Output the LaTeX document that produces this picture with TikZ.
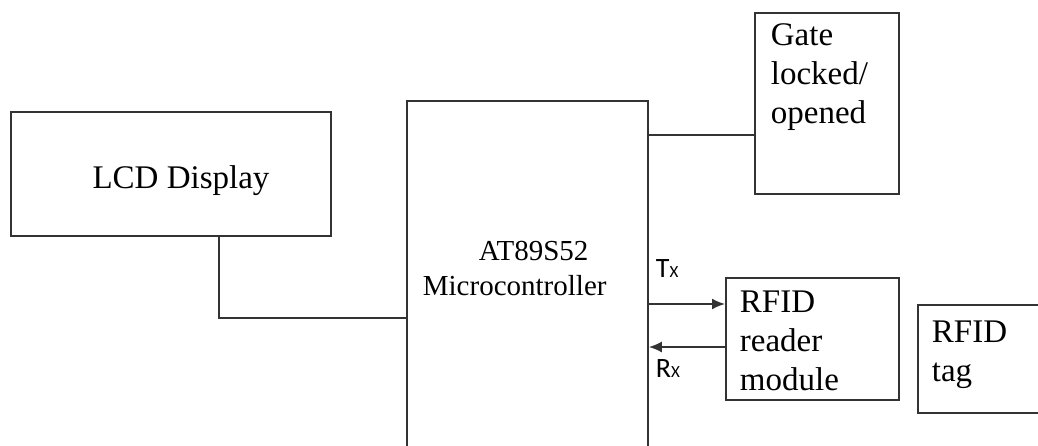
\documentclass[tikz,border=0pt]{standalone}
\usepackage{fontspec}
\setmainfont{Liberation Serif}
\newfontfamily\sigfont{Carlito}
\usetikzlibrary{arrows.meta}

\begin{document}
\begin{tikzpicture}[x=1pt,y=-1pt,line width=1.8pt,
    blk/.style={draw=black!80,rectangle,inner sep=0pt,anchor=north west},
    lbl/.style={inner sep=0pt,align=left,font=\fontsize{33}{39}\selectfont},
    sig/.style={draw=black!80,-{Latex[length=13pt,width=11pt]}},
    wire/.style={draw=black!80}]
    \useasboundingbox (0,0) rectangle (1038,445);
    %
    \node[blk,minimum width=320pt,minimum height=124pt] (lcd) at (10,111) {};
    \node[blk,minimum width=241pt,minimum height=360pt] (mcu) at (406,100) {};
    \node[blk,minimum width=144pt,minimum height=181pt] (gate) at (754,12) {};
    \node[blk,minimum width=173pt,minimum height=122pt] (reader) at (725,277) {};
    \node[blk,minimum width=140pt,minimum height=108pt] (tag) at (917,304) {};
    %
    \node[lbl,anchor=base] (lcdtxt) at (181,188) {LCD Display};
    \node[lbl,anchor=base west,font=\fontsize{29}{35}\selectfont] (mcuname) at (478,260) {AT89S52};
    \node[lbl,anchor=base west,font=\fontsize{29}{35}\selectfont] (mcutype) at (422,295) {Microcontroller};
    \node[lbl,anchor=north west] (gatetxt) at (770,23) {Gate\\locked/\\opened};
    \node[lbl,anchor=north west] (readertxt) at (739,290) {RFID\\reader\\module};
    \node[lbl,anchor=north west] (tagtxt) at (931,320) {RFID\\tag};
    %
    \node[inner sep=0pt,anchor=base west,font=\sigfont\fontsize{28}{28}\selectfont] (txlbl) at (655,277) {T{\fontsize{17}{17}\selectfont X}};
    \node[inner sep=0pt,anchor=base west,font=\sigfont\fontsize{28}{28}\selectfont] (rxlbl) at (655,377) {R{\fontsize{17}{17}\selectfont X}};
    %
    \coordinate (lcdtap) at (219,318);
    \coordinate (gatetap) at (700,135);
    \coordinate (txlvl) at (690,304);
    \coordinate (rxlvl) at (690,347);
    %
    \draw[wire] (lcd.south -| lcdtap) -- (lcdtap) -- (mcu.west |- lcdtap);
    \draw[wire] (mcu.east |- gatetap) -- (gate.west |- gatetap);
    \draw[sig] (mcu.east |- txlvl) -- (reader.west |- txlvl);
    \draw[sig] (reader.west |- rxlvl) -- (mcu.east |- rxlvl);
    %
\end{tikzpicture}
\end{document}
